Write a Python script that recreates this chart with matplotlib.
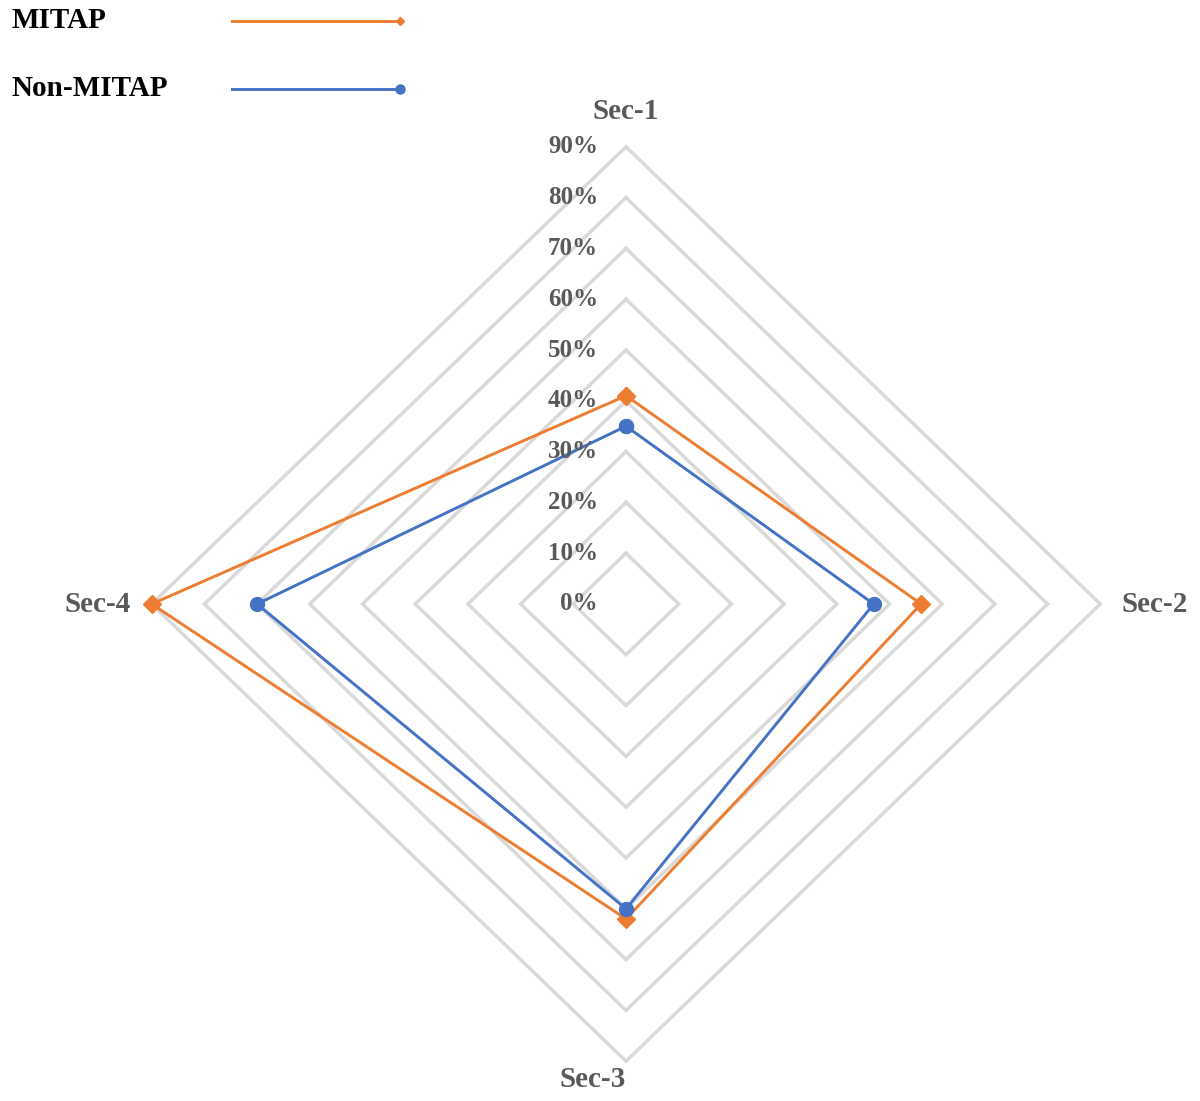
import numpy as np
import matplotlib
matplotlib.use("Agg")
import matplotlib.pyplot as plt
from matplotlib.lines import Line2D

# 数据
categories = ["Sec-1", "Sec-2", "Sec-3", "Sec-4"]
mitap = [41, 56, 62, 90]
non_mitap = [35, 47, 60, 70]
grid_levels = [10, 20, 30, 40, 50, 60, 70, 80, 90]
tick_labels = ["0%", "10%", "20%", "30%", "40%", "50%", "60%", "70%", "80%", "90%"]

ORANGE = "#ED7D31"
BLUE = "#4472C4"
GRID = "#D9D9D9"
LABEL = "#595959"

plt.rcParams["font.family"] = ["Liberation Serif", "DejaVu Serif"]
plt.rcParams["font.weight"] = "bold"

# 轴方向：Sec-1 上，顺时针
angles = np.array([0, 90, 180, 270]) * np.pi / 180
dx = np.sin(angles)
dy = np.cos(angles)


def to_xy(vals):
    v = np.asarray(vals, dtype=float)
    x = np.append(v * dx, v[0] * dx[0])
    y = np.append(v * dy, v[0] * dy[0])
    return x, y


fig = plt.figure(figsize=(12, 11.01), dpi=100)
ax = fig.add_axes([0, 0, 1, 1])
# 像素比例：水平 5.27 px/%，垂直 5.08 px/%，中心 (626, 604)
ax.set_xlim(-626 / 5.27, (1200 - 626) / 5.27)
ax.set_ylim(-497 / 5.08, (1101 - 497) / 5.08)
ax.axis("off")

for lv in grid_levels:
    gx, gy = to_xy([lv] * 4)
    ax.plot(gx, gy, color=GRID, lw=2.5, zorder=1, solid_joinstyle="miter")

mx, my = to_xy(mitap)
ax.plot(mx, my, color=ORANGE, lw=2.1, marker="D", markersize=9.5, zorder=3)
nx, ny = to_xy(non_mitap)
ax.plot(nx, ny, color=BLUE, lw=2.1, marker="o", markersize=10, zorder=4)

# 刻度标签
for i, lab in enumerate(tick_labels):
    ax.text(-5.3, i * 10, lab, ha="right", va="center", fontsize=18,
            color=LABEL, fontweight="bold", zorder=5)

# 分类标签
ax.text(0, 96.9, categories[0], ha="center", va="center", fontsize=21,
        color=LABEL, fontweight="bold")
ax.text(94.1, 0, categories[1], ha="left", va="center", fontsize=21,
        color=LABEL, fontweight="bold")
ax.text(-6.3, -93.7, categories[2], ha="center", va="center", fontsize=21,
        color=LABEL, fontweight="bold")
ax.text(-93.9, 0, categories[3], ha="right", va="center", fontsize=21,
        color=LABEL, fontweight="bold")

# 图例（左上角）
W, H = 1200, 1101
for label, color, marker, ms, ypx in [
    ("MITAP", ORANGE, "D", 4.5, 21),
    ("Non-MITAP", BLUE, "o", 6.5, 89),
]:
    fig.text(12 / W, 1 - ypx / H, label, ha="left", va="center",
             fontsize=21, color="black", fontweight="bold")
    fig.add_artist(Line2D([232 / W, 400 / W], [1 - ypx / H, 1 - ypx / H],
                          transform=fig.transFigure, color=color, lw=2.1,
                          marker=marker, markersize=ms, markevery=[1]))

fig.savefig("out.png", dpi=100)
plt.close(fig)
